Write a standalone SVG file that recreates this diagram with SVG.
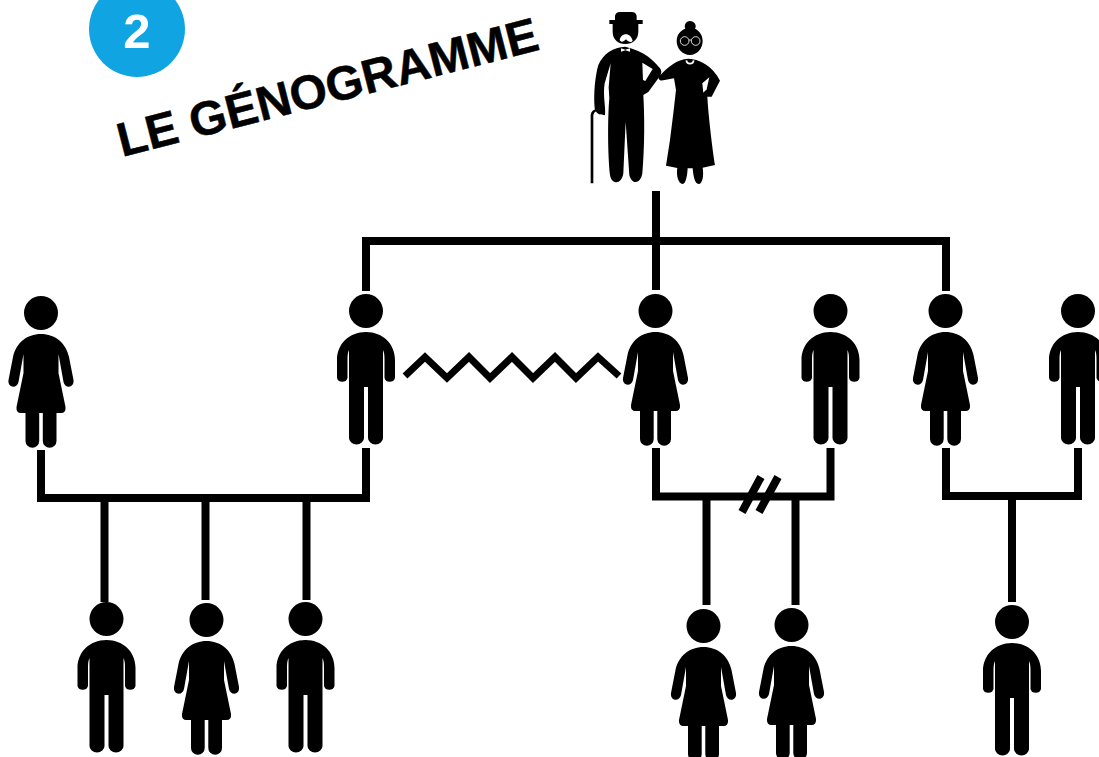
<svg xmlns="http://www.w3.org/2000/svg" width="1099" height="757" viewBox="0 0 1099 757">
<style>
.c{fill:none;stroke:#000;stroke-width:8;stroke-linejoin:miter}
.z{stroke-width:7}
.t{font-family:"Liberation Sans",Arial,sans-serif;font-weight:bold}
</style>
<defs>
<g id="man"><circle cx="0" cy="0" r="17"/><path d="M0 21C-17 21-29 33-29 49V67A5.500 5.500 0 0 0-18.500 67V48Q-18.500 42-17 39V127A7.500 6.500 0 0 0-2 127V76H2V127A7.500 6.500 0 0 0 17 127V39Q18.500 42 18.500 48V67A5.500 5.500 0 0 0 29 67V49C29 33 17 21 0 21Z"/></g>
<g id="woman"><circle cx="0" cy="0" r="17"/><path d="M0 21C-14 21-25 30-28 44L-32.500 67C-33.500 75-24 76-22.500 69L-17.500 41V60L-24.500 94Q-25 100-20 100H-15.500V128A6.800 6.800 0 0 0-1.800 128V100H1.800V128A6.800 6.800 0 0 0 15.500 128V100H20Q25 100 24.500 94L17.500 60V41L22.500 69C24 76 33.500 75 32.500 67L28 44C25 30 14 21 0 21Z"/></g>
</defs>
<g id="badge"><circle cx="137" cy="29" r="48" fill="#10a5e2"/><text class="t" x="137" y="47.500" font-size="49" fill="#fff" text-anchor="middle">2</text></g>
<g id="title"><text class="t" transform="translate(122 157) rotate(-14.400)" font-size="47.800" fill="#000" stroke="#000" stroke-width=".5">LE GÉNOGRAMME</text></g>
<g id="connectors">
<path class="c" d="M656 191V290M366 291V241H946V291"/>
<path class="c" d="M41 450V498H366V448"/>
<path class="c" d="M104.500 498V602M205.500 498V600M306.500 498V600"/>
<path class="c" d="M656 448V496.500H830.500V448"/>
<path class="c" d="M706.500 498V605M795.500 498V605"/>
<path class="c" d="M761 477L742 512M778 477L759 512"/>
<path class="c" d="M946 448V496H1078V448M1012 496V602"/>
<path class="c z" d="M405 376L425 357L447 378L469 357L490 378L512 357L533 378L555 357L576 378L598 357L619 376"/>
</g>
<g id="grandparents" transform="translate(570 0) scale(.3333)">
<path d="M118 60H135V48Q137 36 150 36H185Q198 36 200 48V60H218V72H205V95C205 118 188 132 166 132C144 132 128 118 128 95V72H118Z"/>
<path fill="#fff" d="M149 120C152 108 160 103 168 103C177 103 185 110 188 122C184 129 176 127 168 118C160 127 153 128 149 120Z"/>
<path d="M166 140C130 142 100 160 85 195C76 225 70 280 74 325C76 335 85 345 92 343L105 346C108 320 98 290 104 250L122 190L116 262L118 295C113 350 113 460 120 525C125 555 155 555 160 520L167 365L178 525C185 555 212 553 217 520C224 440 224 350 220 285L235 276L270 228Q278 215 270 205C250 180 225 155 166 140Z"/>
<path fill="#fff" d="M217 188L248 207L226 243L219 240Z"/>
<path fill="#fff" d="M153 145L166 149L180 145V155L166 151L153 155Z"/>
<path d="M62 550H70V345Q72 336 80 333L82 328Q64 328 62 345Z"/>
<path d="M360 63C348 63 341 76 346 86C330 92 320 105 320 123C320 145 337 165 360 165C382 165 398 145 398 123C398 105 388 92 375 86C382 76 372 63 360 63Z"/>
<g fill="none" stroke="#fff" stroke-width="2.500"><circle cx="344" cy="123" r="13"/><circle cx="377" cy="123" r="13"/><path d="M357 120H364"/></g>
<path d="M355 176C320 178 295 200 268 228C262 238 270 243 280 241L312 235L318 270L310 340L300 420L288 497L322 504C318 525 325 552 338 552C348 552 352 525 353 505H368C370 530 375 552 386 552C398 552 402 525 398 503L435 495C425 430 415 340 412 290H425L450 242C435 210 400 178 355 176Z"/>
<path fill="#fff" d="M418 232L397 250L400 278L410 268Z"/>
<path fill="none" stroke="#fff" stroke-width="5" d="M349 181Q350 191 360 191Q370 191 371 181"/>
</g>
<use id="p1" href="#woman" x="41" y="313"/>
<use id="p2" href="#man" x="366" y="311"/>
<use id="p3" href="#woman" x="655.500" y="311"/>
<use id="p4" href="#man" x="830.500" y="311"/>
<use id="p5" href="#woman" x="945.500" y="311"/>
<use id="p6" href="#man" x="1078" y="311"/>
<use id="c1" href="#man" x="106.500" y="619"/>
<use id="c2" href="#woman" x="206.500" y="620"/>
<use id="c3" href="#man" x="305.500" y="619"/>
<use id="c4" href="#woman" x="703.500" y="626"/>
<use id="c5" href="#woman" x="791.500" y="625"/>
<use id="c6" href="#man" x="1012" y="622"/>
</svg>
